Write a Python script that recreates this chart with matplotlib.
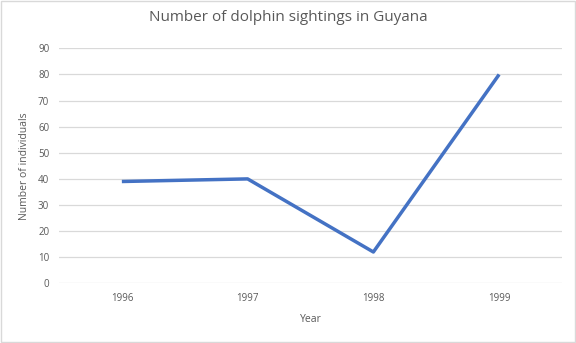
import matplotlib.pyplot as plt
from matplotlib.patches import Rectangle

years = ['1996', '1997', '1998', '1999']
sightings = [39, 40, 12, 80]

plt.rcParams['font.family'] = ['Open Sans', 'DejaVu Sans']

fig = plt.figure(figsize=(5.76, 3.43), dpi=100)
ax = fig.add_axes([0.1024, 0.174, 0.8733, 0.685])

x = range(len(years))
ax.plot(x, sightings, color='#4472C4', linewidth=2.5, solid_capstyle='butt', zorder=3)

ax.set_xlim(-0.5, len(years) - 0.5)
ax.set_ylim(0, 90)
ax.set_yticks(range(0, 91, 10))
ax.set_xticks(list(x))
ax.set_xticklabels(years)
ax.grid(axis='y', color='#D9D9D9', linewidth=0.9)
ax.set_axisbelow(True)
for s in ax.spines.values():
    s.set_visible(False)
ax.tick_params(length=0, labelsize=7, colors='#595959', pad=7)

ax.set_xlabel('Year', fontsize=7.5, color='#595959', labelpad=7)
ax.set_ylabel('Number of individuals', fontsize=7.5, color='#595959', labelpad=6)
fig.text(0.5, 0.948, 'Number of dolphin sightings in Guyana', ha='center', va='center',
         fontsize=11, color='#595959')

fig.patches.append(Rectangle((0.001, 0.002), 0.997, 0.995, transform=fig.transFigure,
                             fill=False, edgecolor='#D9D9D9', linewidth=1))

fig.savefig('out.png', dpi=100)
